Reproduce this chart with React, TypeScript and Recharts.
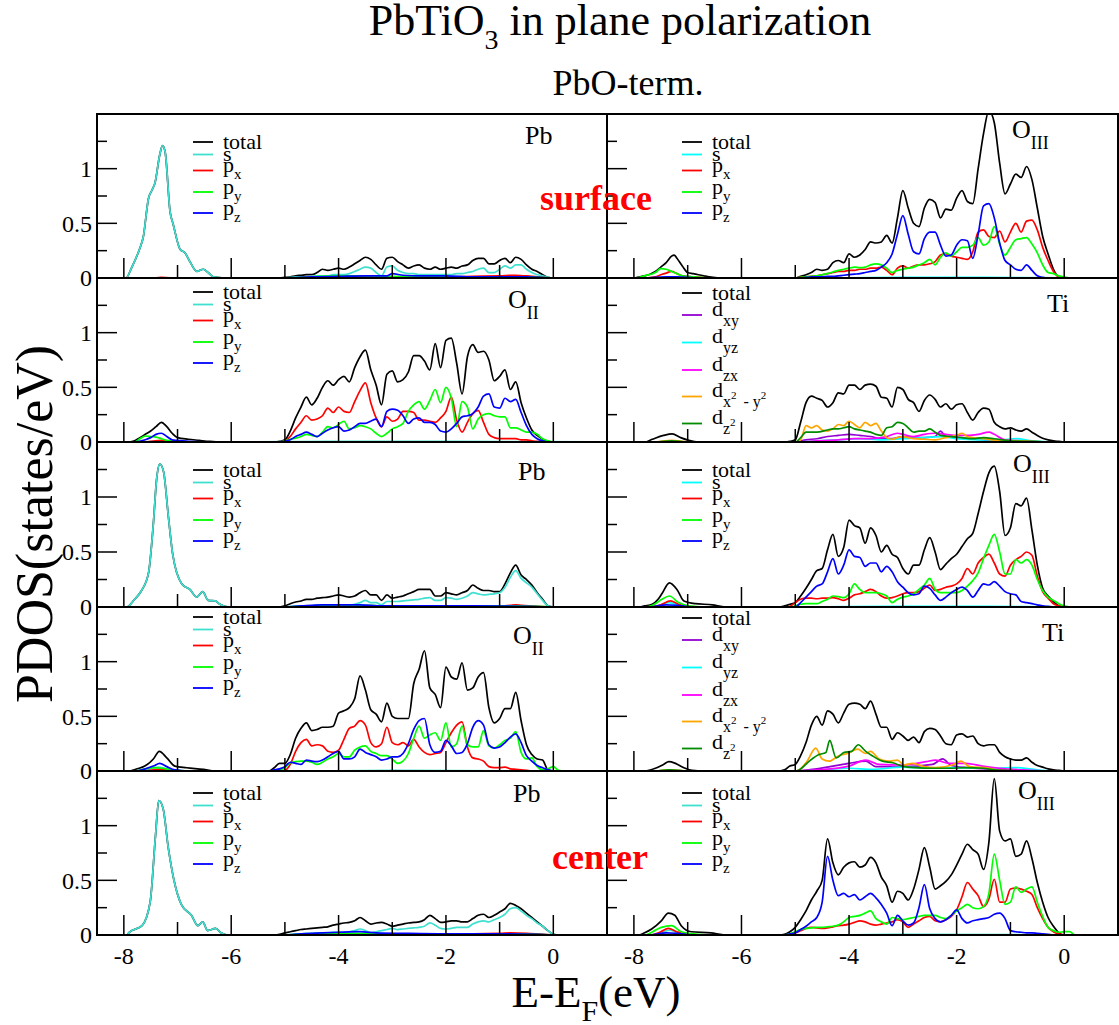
import { LineChart, Line, XAxis, YAxis, Legend } from "recharts";

type Pt = [number, number];

const FONT = "'Liberation Serif', 'Times New Roman', serif";

const BLACK = "#000000";
const TURQ = "#40e0d0";
const CYAN = "#00ffff";
const RED = "#ff0000";
const GREEN = "#00ff00";
const BLUE = "#0000ff";
const VIOLET = "#9400d3";
const MAGENTA = "#ff00ff";
const ORANGE = "#ffa500";
const GREEN4 = "#008b00";

// energy grid of the valence band (eV)
const E_VB = [
  -5.3, -5.2, -5.1, -5.0, -4.9, -4.8, -4.7, -4.6, -4.5, -4.4,
  -4.3, -4.2, -4.1, -4.0, -3.9, -3.8, -3.7, -3.6, -3.5, -3.4,
  -3.3, -3.2, -3.1, -3.0, -2.9, -2.8, -2.7, -2.6, -2.5, -2.4,
  -2.3, -2.2, -2.1, -2.0, -1.9, -1.8, -1.7, -1.6, -1.5, -1.4,
  -1.3, -1.2, -1.1, -1.0, -0.9, -0.8, -0.7, -0.6, -0.5, -0.4,
  -0.3, -0.2, -0.1, 0.0, 0.1, 0.2,
];

const X_DOMAIN: [number, number] = [-8.5, 1];
const Y_DOMAIN: [number, number] = [0, 1.5];
const X_MAJOR = [-8, -6, -4, -2, 0];
const X_MINOR = [-7, -5, -3, -1];
const Y_TICKS = [0, 0.25, 0.5, 0.75, 1, 1.25];
const Y_LABELED = [0, 0.5, 1];

// ---------- Pb, surface ----------
const PB1_SC: Pt[] = [[-8.5, 0], [-7.96, 0], [-7.85, 0.1], [-7.7, 0.275], [-7.64, 0.37], [-7.54, 0.73], [-7.48, 0.8], [-7.42, 0.87], [-7.33, 1.13], [-7.28, 1.21], [-7.23, 1.15], [-7.14, 0.61], [-7.08, 0.49], [-6.95, 0.26], [-6.86, 0.23], [-6.77, 0.15], [-6.64, 0.06], [-6.52, 0.08], [-6.43, 0.05], [-6.33, 0.01], [-6.12, 0]];
const PB1_TOT = [
  0, 0, 0, 0.005, 0.01, 0.02, 0.025, 0.03, 0.03, 0.05,
  0.08, 0.07, 0.08, 0.09, 0.08, 0.1, 0.13, 0.16, 0.19, 0.17,
  0.12, 0.08, 0.18, 0.19, 0.15, 0.12, 0.09, 0.11, 0.12, 0.09,
  0.08, 0.1, 0.08, 0.09, 0.1, 0.09, 0.11, 0.12, 0.16, 0.18,
  0.18, 0.13, 0.13, 0.16, 0.18, 0.14, 0.19, 0.17, 0.12, 0.08,
  0.06, 0.03, 0.005, 0, 0, 0,
];
const PB1_S = [
  0, 0, 0, 0, 0.005, 0.01, 0.01, 0.01, 0.015, 0.02,
  0.02, 0.02, 0.03, 0.03, 0.03, 0.04, 0.06, 0.08, 0.1, 0.09,
  0.05, 0.02, 0.1, 0.11, 0.07, 0.05, 0.04, 0.04, 0.03, 0.03,
  0.03, 0.03, 0.03, 0.03, 0.03, 0.04, 0.04, 0.05, 0.06, 0.08,
  0.09, 0.05, 0.05, 0.08, 0.11, 0.09, 0.12, 0.12, 0.08, 0.05,
  0.03, 0.02, 0.005, 0, 0, 0,
];
const PB1_PX: Pt[] = [[-8.5, 0], [-7.5, 0], [-7.3, 0.005], [-7.0, 0], [-5.0, 0], [-4.0, 0.01], [-3.0, 0.01], [-2.0, 0.01], [-1.5, 0.015], [-1.0, 0.02], [-0.7, 0.025], [-0.4, 0.015], [0, 0], [1, 0]];
const PB1_PY: Pt[] = [[-8.5, 0], [-5.0, 0], [-4.5, 0.01], [-4.0, 0.02], [-3.5, 0.02], [-3.0, 0.015], [-2.5, 0.01], [-1.5, 0.01], [-0.5, 0.01], [0, 0], [1, 0]];
const PB1_PZ: Pt[] = [[-8.5, 0], [-5.0, 0], [-4.5, 0.01], [-4.0, 0.015], [-3.5, 0.02], [-3.1, 0.02], [-3.0, 0.04], [-2.8, 0.025], [-2.5, 0.02], [-2.0, 0.02], [-1.5, 0.01], [-1.0, 0.01], [-0.5, 0.01], [0, 0], [1, 0]];

// ---------- O_III, surface ----------
const O3A_TOT_SC: Pt[] = [[-8.5, 0], [-8.0, 0], [-7.9, 0.01], [-7.8, 0.02], [-7.7, 0.035], [-7.6, 0.06], [-7.5, 0.1], [-7.4, 0.14], [-7.3, 0.2], [-7.25, 0.21], [-7.2, 0.18], [-7.1, 0.11], [-7.0, 0.05], [-6.9, 0.04], [-6.8, 0.03], [-6.7, 0.02], [-6.6, 0.01], [-6.4, 0]];
const O3A_PX_SC: Pt[] = [[-8.5, 0], [-7.8, 0], [-7.6, 0.01], [-7.5, 0.03], [-7.4, 0.045], [-7.3, 0.06], [-7.2, 0.04], [-7.1, 0.02], [-6.9, 0.01], [-6.6, 0]];
const O3A_PY_SC: Pt[] = [[-8.5, 0], [-8.0, 0], [-7.8, 0.02], [-7.6, 0.05], [-7.5, 0.085], [-7.4, 0.08], [-7.3, 0.06], [-7.2, 0.04], [-7.1, 0.02], [-6.9, 0.01], [-6.6, 0]];
const O3A_PZ_SC: Pt[] = [[-8.5, 0], [-7.8, 0], [-7.4, 0.01], [-7.2, 0.01], [-6.8, 0]];
const O3A_S: Pt[] = [[-8.5, 0], [-7.6, 0], [-7.3, 0.01], [-7.0, 0], [-5.0, 0], [-3.0, 0.005], [-1.5, 0.005], [1, 0]];
const O3A_TOT = [
  0, 0, 0, 0, 0.015, 0.03, 0.05, 0.08, 0.07, 0.08,
  0.14, 0.16, 0.14, 0.22, 0.19, 0.21, 0.26, 0.33, 0.32, 0.33,
  0.39, 0.32, 0.55, 0.8, 0.64, 0.5, 0.47, 0.64, 0.72, 0.69,
  0.55, 0.63, 0.62, 0.73, 0.8, 0.7, 0.68, 1.0, 1.32, 1.53,
  1.42, 1.05, 0.77, 0.86, 0.95, 0.92, 1.02, 0.9, 0.64, 0.38,
  0.22, 0.08, 0.01, 0, 0, 0,
];
const O3A_PX = [
  0, 0, 0, 0, 0.005, 0.01, 0.015, 0.02, 0.03, 0.04,
  0.05, 0.06, 0.06, 0.07, 0.07, 0.08, 0.08, 0.09, 0.09, 0.1,
  0.07, 0.03, 0.09, 0.11, 0.09, 0.11, 0.12, 0.12, 0.13, 0.15,
  0.21, 0.22, 0.2, 0.19, 0.18, 0.17, 0.24, 0.42, 0.44, 0.38,
  0.37, 0.43, 0.33, 0.42, 0.5, 0.42, 0.52, 0.53, 0.44, 0.28,
  0.16, 0.06, 0.01, 0, 0, 0,
];
const O3A_PY = [
  0, 0, 0, 0, 0.005, 0.01, 0.015, 0.02, 0.03, 0.04,
  0.055, 0.07, 0.08, 0.09, 0.1, 0.095, 0.1, 0.12, 0.13, 0.12,
  0.09, 0.05, 0.07, 0.08, 0.09, 0.1, 0.12, 0.14, 0.17, 0.12,
  0.19, 0.23, 0.2, 0.24, 0.28, 0.28, 0.3, 0.37, 0.3, 0.33,
  0.47, 0.31, 0.21, 0.28, 0.35, 0.36, 0.37, 0.31, 0.23, 0.12,
  0.05, 0.04, 0.02, 0.01, 0, 0,
];
const O3A_PZ = [
  0, 0, 0, 0, 0, 0.005, 0.01, 0.01, 0.01, 0.015,
  0.015, 0.02, 0.025, 0.03, 0.035, 0.04, 0.05, 0.06, 0.07, 0.1,
  0.14, 0.22, 0.4, 0.57, 0.4, 0.24, 0.22, 0.36, 0.42, 0.42,
  0.3, 0.2, 0.21, 0.3, 0.35, 0.34, 0.18, 0.4, 0.66, 0.68,
  0.55, 0.32, 0.16, 0.12, 0.08, 0.07, 0.12, 0.07, 0.02, 0.005,
  0, 0, 0, 0, 0, 0,
];

// ---------- O_II, surface ----------
const O2A_TOT_SC: Pt[] = [[-8.5, 0], [-7.9, 0], [-7.8, 0.01], [-7.7, 0.04], [-7.6, 0.07], [-7.5, 0.1], [-7.4, 0.14], [-7.3, 0.18], [-7.2, 0.14], [-7.1, 0.08], [-7.0, 0.04], [-6.8, 0.025], [-6.6, 0.015], [-6.4, 0.005], [-6.2, 0]];
const O2A_PX_SC: Pt[] = [[-8.5, 0], [-7.6, 0], [-7.3, 0.015], [-7.0, 0], [-6.6, 0]];
const O2A_PY_SC: Pt[] = [[-8.5, 0], [-7.8, 0], [-7.7, 0.03], [-7.6, 0.055], [-7.5, 0.05], [-7.4, 0.045], [-7.3, 0.03], [-7.2, 0.015], [-7.0, 0.005], [-6.6, 0]];
const O2A_PZ_SC: Pt[] = [[-8.5, 0], [-7.8, 0], [-7.6, 0.02], [-7.5, 0.04], [-7.4, 0.07], [-7.3, 0.08], [-7.2, 0.05], [-7.1, 0.02], [-6.9, 0.01], [-6.5, 0]];
const O2A_S: Pt[] = [[-8.5, 0], [-7.6, 0], [-7.3, 0.01], [-7.0, 0], [-4.0, 0.005], [-2.0, 0.005], [1, 0]];
const O2A_TOT = [
  0, 0, 0.005, 0.02, 0.1, 0.22, 0.32, 0.41, 0.34, 0.4,
  0.5, 0.56, 0.52, 0.57, 0.6, 0.55, 0.68, 0.78, 0.84, 0.66,
  0.52, 0.34, 0.62, 0.65, 0.55, 0.57, 0.64, 0.79, 0.79, 0.74,
  0.66, 0.9, 0.68, 0.93, 0.95, 0.72, 0.44, 0.78, 0.89, 0.82,
  0.83, 0.75, 0.56, 0.6, 0.66, 0.48, 0.55, 0.36, 0.22, 0.11,
  0.06, 0.025, 0.005, 0, 0, 0,
];
const O2A_PX = [
  0, 0, 0, 0.01, 0.05, 0.12, 0.18, 0.24, 0.2, 0.21,
  0.24, 0.31, 0.27, 0.32, 0.28, 0.27, 0.37, 0.47, 0.54, 0.36,
  0.22, 0.14, 0.23, 0.19, 0.21, 0.28, 0.28, 0.27, 0.2, 0.2,
  0.19, 0.18, 0.22, 0.28, 0.41, 0.2, 0.09, 0.18, 0.26, 0.29,
  0.18, 0.07, 0.04, 0.03, 0.03, 0.03, 0.03, 0.02, 0.02, 0.01,
  0.005, 0, 0, 0, 0, 0,
];
const O2A_PY = [
  0, 0, 0, 0.01, 0.025, 0.035, 0.05, 0.07, 0.06, 0.05,
  0.09, 0.14, 0.13, 0.16, 0.19, 0.12, 0.13, 0.15, 0.14, 0.12,
  0.08, 0.05, 0.08, 0.12, 0.14, 0.17, 0.28, 0.34, 0.37, 0.3,
  0.38, 0.48, 0.36, 0.5, 0.4, 0.14, 0.37, 0.32, 0.12, 0.21,
  0.25, 0.26, 0.24, 0.23, 0.23, 0.13, 0.13, 0.11, 0.09, 0.09,
  0.07, 0.03, 0.01, 0, 0, 0,
];
const O2A_PZ = [
  0, 0, 0, 0.005, 0.02, 0.05, 0.07, 0.09, 0.07, 0.05,
  0.08, 0.11, 0.13, 0.14, 0.1, 0.11, 0.14, 0.17, 0.17, 0.19,
  0.21, 0.14, 0.28, 0.3, 0.29, 0.24, 0.17, 0.21, 0.22, 0.18,
  0.18, 0.16, 0.1, 0.09, 0.12, 0.17, 0.23, 0.24, 0.26, 0.32,
  0.42, 0.44, 0.32, 0.31, 0.4, 0.37, 0.39, 0.27, 0.15, 0.07,
  0.03, 0.01, 0, 0, 0, 0,
];

// ---------- Ti, surface ----------
const TIA_TOT_SC: Pt[] = [[-8.5, 0], [-7.8, 0], [-7.66, 0.025], [-7.45, 0.06], [-7.29, 0.075], [-7.13, 0.04], [-6.98, 0.015], [-6.8, 0]];
const TIA_TOT = [
  0, 0, 0.005, 0.02, 0.18, 0.36, 0.42, 0.4, 0.38, 0.32,
  0.36, 0.45, 0.44, 0.52, 0.52, 0.48, 0.52, 0.53, 0.51, 0.41,
  0.4, 0.32, 0.5, 0.48, 0.39, 0.36, 0.28, 0.38, 0.43, 0.39,
  0.32, 0.35, 0.3, 0.34, 0.35, 0.27, 0.2, 0.27, 0.31, 0.3,
  0.18, 0.14, 0.12, 0.13, 0.11, 0.1, 0.12, 0.09, 0.06, 0.035,
  0.02, 0.01, 0.005, 0, 0, 0,
];
const TIA_DXY: Pt[] = [[-8.5, 0], [-5.0, 0], [-4.8, 0.02], [-4.6, 0.03], [-4.4, 0.05], [-4.2, 0.06], [-4.0, 0.07], [-3.8, 0.06], [-3.6, 0.05], [-3.4, 0.03], [-3.2, 0.03], [-3.0, 0.05], [-2.8, 0.04], [-2.6, 0.04], [-2.4, 0.05], [-2.3, 0.1], [-2.2, 0.05], [-2.0, 0.04], [-1.8, 0.03], [-1.5, 0.02], [-1.2, 0.01], [-0.8, 0.005], [-0.3, 0], [1, 0]];
const TIA_DYZ: Pt[] = [[-8.5, 0], [-5.0, 0], [-4.6, 0.01], [-4.2, 0.02], [-3.8, 0.03], [-3.4, 0.02], [-3.0, 0.03], [-2.6, 0.04], [-2.3, 0.05], [-2.0, 0.03], [-1.6, 0.02], [-1.2, 0.02], [-0.9, 0.03], [-0.6, 0.01], [-0.2, 0], [1, 0]];
const TIA_DZX: Pt[] = [[-8.5, 0], [-5.0, 0], [-4.6, 0.01], [-4.2, 0.02], [-3.9, 0.03], [-3.6, 0.03], [-3.3, 0.05], [-3.1, 0.08], [-3.0, 0.07], [-2.8, 0.05], [-2.6, 0.07], [-2.4, 0.08], [-2.2, 0.07], [-2.0, 0.06], [-1.8, 0.06], [-1.6, 0.07], [-1.4, 0.09], [-1.3, 0.07], [-1.1, 0.02], [-0.8, 0.01], [-0.3, 0], [1, 0]];
const TIA_DX2Y2: Pt[] = [[-8.5, 0], [-7.6, 0], [-7.3, 0.015], [-7.0, 0], [-5.0, 0], [-4.9, 0.02], [-4.8, 0.15], [-4.7, 0.13], [-4.6, 0.15], [-4.5, 0.11], [-4.4, 0.1], [-4.3, 0.12], [-4.2, 0.16], [-4.1, 0.15], [-4.0, 0.19], [-3.9, 0.16], [-3.8, 0.13], [-3.7, 0.18], [-3.6, 0.15], [-3.5, 0.17], [-3.4, 0.1], [-3.3, 0.04], [-3.2, 0.025], [-3.1, 0.04], [-3.0, 0.05], [-2.9, 0.04], [-2.8, 0.03], [-2.6, 0.025], [-2.4, 0.02], [-2.2, 0.04], [-2.1, 0.05], [-2.0, 0.06], [-1.9, 0.08], [-1.8, 0.05], [-1.7, 0.04], [-1.5, 0.03], [-1.2, 0.015], [-0.8, 0.01], [-0.3, 0], [1, 0]];
const TIA_DZ2: Pt[] = [[-8.5, 0], [-7.6, 0], [-7.3, 0.01], [-7.0, 0], [-5.0, 0], [-4.9, 0.04], [-4.8, 0.09], [-4.6, 0.09], [-4.4, 0.11], [-4.3, 0.12], [-4.2, 0.12], [-4.1, 0.13], [-4.0, 0.14], [-3.9, 0.12], [-3.8, 0.11], [-3.7, 0.1], [-3.6, 0.09], [-3.5, 0.07], [-3.4, 0.06], [-3.3, 0.13], [-3.2, 0.14], [-3.1, 0.18], [-3.0, 0.17], [-2.9, 0.13], [-2.8, 0.09], [-2.7, 0.1], [-2.6, 0.1], [-2.5, 0.12], [-2.4, 0.09], [-2.3, 0.06], [-2.1, 0.05], [-1.9, 0.04], [-1.7, 0.03], [-1.5, 0.04], [-1.3, 0.03], [-1.0, 0.01], [-0.6, 0.005], [-0.2, 0], [1, 0]];

// ---------- Pb, second layer ----------
const PB2_SC: Pt[] = [[-8.5, 0], [-7.95, 0], [-7.8, 0.07], [-7.67, 0.15], [-7.54, 0.31], [-7.45, 0.76], [-7.39, 1.16], [-7.33, 1.3], [-7.26, 1.23], [-7.17, 0.82], [-7.09, 0.48], [-6.92, 0.21], [-6.77, 0.16], [-6.64, 0.09], [-6.53, 0.14], [-6.43, 0.06], [-6.3, 0.055], [-6.21, 0.025], [-6.05, 0]];
const PB2_TOT = [
  0, 0, 0, 0.01, 0.03, 0.045, 0.055, 0.07, 0.07, 0.08,
  0.085, 0.09, 0.1, 0.11, 0.1, 0.09, 0.1, 0.13, 0.15, 0.11,
  0.11, 0.06, 0.11, 0.08, 0.09, 0.1, 0.12, 0.14, 0.16, 0.16,
  0.16, 0.1, 0.1, 0.13, 0.12, 0.11, 0.13, 0.15, 0.2, 0.17,
  0.15, 0.15, 0.14, 0.14, 0.21, 0.31, 0.38, 0.29, 0.25, 0.2,
  0.13, 0.07, 0.01, 0, 0, 0,
];
const PB2_S = [
  0, 0, 0, 0, 0.005, 0.01, 0.01, 0.01, 0.01, 0.015,
  0.015, 0.02, 0.02, 0.02, 0.02, 0.02, 0.025, 0.04, 0.06, 0.04,
  0.04, 0.02, 0.05, 0.05, 0.05, 0.055, 0.06, 0.065, 0.07, 0.08,
  0.085, 0.06, 0.06, 0.085, 0.08, 0.07, 0.08, 0.1, 0.13, 0.12,
  0.11, 0.115, 0.12, 0.13, 0.18, 0.27, 0.33, 0.26, 0.22, 0.18,
  0.12, 0.06, 0.01, 0, 0, 0,
];
const PB2_PX: Pt[] = [[-8.5, 0], [-5.0, 0], [-4.0, 0.01], [-3.0, 0.01], [-2.0, 0.01], [-1.0, 0.01], [-0.8, 0.015], [-0.7, 0.02], [-0.6, 0.015], [-0.3, 0.005], [0, 0], [1, 0]];
const PB2_PY: Pt[] = [[-8.5, 0], [-5.0, 0], [-4.5, 0.01], [-4.0, 0.02], [-3.5, 0.015], [-3.0, 0.01], [-2.0, 0.01], [-1.0, 0.01], [-0.3, 0.005], [0, 0], [1, 0]];
const PB2_PZ: Pt[] = [[-8.5, 0], [-5.0, 0], [-4.7, 0.01], [-4.3, 0.02], [-4.0, 0.02], [-3.6, 0.02], [-3.2, 0.01], [-2.5, 0.01], [-1.5, 0.01], [-0.5, 0.005], [0, 0], [1, 0]];

// ---------- O_III, second layer ----------
const O3B_TOT_SC: Pt[] = [[-8.5, 0], [-7.9, 0], [-7.8, 0.01], [-7.66, 0.025], [-7.55, 0.07], [-7.48, 0.12], [-7.34, 0.22], [-7.2, 0.16], [-7.07, 0.055], [-6.86, 0.03], [-6.54, 0.02], [-6.3, 0]];
const O3B_PX_SC: Pt[] = [[-8.5, 0], [-7.7, 0], [-7.5, 0.02], [-7.32, 0.055], [-7.17, 0.025], [-7.0, 0.005], [-6.7, 0]];
const O3B_PY_SC: Pt[] = [[-8.5, 0], [-7.8, 0], [-7.6, 0.03], [-7.48, 0.07], [-7.34, 0.1], [-7.17, 0.04], [-6.98, 0.01], [-6.7, 0]];
const O3B_PZ_SC: Pt[] = [[-8.5, 0], [-7.7, 0], [-7.4, 0.02], [-7.2, 0.015], [-6.9, 0]];
const O3B_S: Pt[] = [[-8.5, 0], [-7.7, 0], [-7.5, 0.02], [-7.35, 0.04], [-7.2, 0.02], [-7.0, 0], [-5.0, 0], [-3.0, 0.005], [-1.5, 0.005], [1, 0]];
const O3B_TOT = [
  0, 0.01, 0.025, 0.04, 0.1, 0.17, 0.25, 0.33, 0.35, 0.52,
  0.66, 0.46, 0.54, 0.79, 0.74, 0.72, 0.58, 0.72, 0.65, 0.5,
  0.56, 0.48, 0.45, 0.35, 0.3, 0.38, 0.38, 0.52, 0.63, 0.5,
  0.34, 0.39, 0.44, 0.48, 0.55, 0.62, 0.67, 0.85, 1.05, 1.22,
  1.28, 1.05, 0.65, 0.72, 0.94, 0.92, 0.99, 0.7, 0.38, 0.17,
  0.1, 0.05, 0.01, 0, 0, 0,
];
const O3B_PX = [
  0, 0, 0.005, 0.04, 0.07, 0.08, 0.08, 0.075, 0.08, 0.08,
  0.085, 0.075, 0.06, 0.08, 0.11, 0.12, 0.14, 0.16, 0.14, 0.1,
  0.08, 0.085, 0.1, 0.12, 0.13, 0.13, 0.14, 0.17, 0.2, 0.15,
  0.16, 0.18, 0.19, 0.21, 0.26, 0.35, 0.3, 0.4, 0.45, 0.48,
  0.4, 0.3, 0.28, 0.38, 0.43, 0.46, 0.5, 0.47, 0.28, 0.14,
  0.08, 0.03, 0.01, 0, 0, 0,
];
const O3B_PY = [
  0, 0, 0, 0.01, 0.025, 0.03, 0.03, 0.03, 0.05, 0.07,
  0.1, 0.095, 0.085, 0.12, 0.21, 0.16, 0.13, 0.13, 0.13, 0.12,
  0.1, 0.04, 0.07, 0.09, 0.1, 0.12, 0.16, 0.2, 0.26, 0.16,
  0.13, 0.13, 0.13, 0.13, 0.15, 0.19, 0.24, 0.31, 0.44, 0.56,
  0.66, 0.5, 0.3, 0.3, 0.43, 0.4, 0.43, 0.38, 0.25, 0.15,
  0.09, 0.06, 0.03, 0.01, 0, 0,
];
const O3B_PZ = [
  0, 0, 0, 0, 0.04, 0.09, 0.14, 0.19, 0.21, 0.32,
  0.44, 0.3, 0.38, 0.52, 0.46, 0.45, 0.37, 0.4, 0.4, 0.32,
  0.37, 0.32, 0.23, 0.18, 0.13, 0.11, 0.12, 0.19, 0.17, 0.11,
  0.06, 0.09, 0.13, 0.16, 0.18, 0.15, 0.09, 0.15, 0.21, 0.2,
  0.23, 0.19, 0.14, 0.12, 0.11, 0.05, 0.04, 0.03, 0.02, 0.01,
  0.005, 0, 0, 0, 0, 0,
];

// ---------- O_II, second layer ----------
const O2B_TOT_SC: Pt[] = [[-8.5, 0], [-7.9, 0], [-7.75, 0.02], [-7.61, 0.045], [-7.45, 0.11], [-7.34, 0.18], [-7.2, 0.12], [-7.05, 0.045], [-6.83, 0.03], [-6.52, 0.015], [-6.3, 0]];
const O2B_PX_SC: Pt[] = [[-8.5, 0], [-7.6, 0], [-7.35, 0.015], [-7.1, 0.005], [-6.8, 0]];
const O2B_PY_SC: Pt[] = [[-8.5, 0], [-7.8, 0], [-7.6, 0.02], [-7.45, 0.03], [-7.3, 0.025], [-7.1, 0.01], [-6.8, 0]];
const O2B_PZ_SC: Pt[] = [[-8.5, 0], [-7.8, 0], [-7.6, 0.02], [-7.45, 0.045], [-7.33, 0.07], [-7.2, 0.04], [-7.05, 0.01], [-6.8, 0]];
const O2B_S: Pt[] = [[-8.5, 0], [-7.7, 0], [-7.5, 0.02], [-7.35, 0.035], [-7.2, 0.02], [-7.0, 0], [-5.0, 0], [-3.0, 0.005], [1, 0]];
const O2B_TOT = [
  0, 0.03, 0.07, 0.07, 0.15, 0.3, 0.39, 0.44, 0.37, 0.38,
  0.4, 0.4, 0.41, 0.53, 0.55, 0.58, 0.66, 0.87, 0.74, 0.56,
  0.52, 0.45, 0.62, 0.5, 0.48, 0.48, 0.48, 0.8, 0.93, 1.1,
  0.76, 0.7, 0.58, 0.95, 0.86, 0.84, 0.99, 0.74, 0.76, 0.86,
  0.9, 0.58, 0.44, 0.48, 0.57, 0.57, 0.72, 0.46, 0.24, 0.15,
  0.11, 0.1, 0.01, 0, 0, 0,
];
const O2B_PX = [
  0, 0, 0, 0.005, 0.06, 0.18, 0.26, 0.29, 0.23, 0.24,
  0.23, 0.18, 0.17, 0.19, 0.29, 0.39, 0.41, 0.46, 0.42, 0.26,
  0.22, 0.25, 0.4, 0.26, 0.24, 0.26, 0.23, 0.29, 0.22, 0.17,
  0.15, 0.16, 0.17, 0.26, 0.35, 0.42, 0.45, 0.22, 0.12, 0.11,
  0.09, 0.04, 0.03, 0.03, 0.035, 0.02, 0.015, 0.01, 0.005, 0,
  0, 0, 0, 0, 0, 0,
];
const O2B_PY = [
  0, 0, 0.01, 0.03, 0.075, 0.085, 0.09, 0.09, 0.08, 0.06,
  0.08, 0.11, 0.13, 0.16, 0.13, 0.13, 0.19, 0.22, 0.23, 0.18,
  0.16, 0.14, 0.14, 0.11, 0.07, 0.09, 0.16, 0.3, 0.41, 0.3,
  0.33, 0.35, 0.28, 0.44, 0.22, 0.25, 0.41, 0.24, 0.22, 0.22,
  0.37, 0.23, 0.21, 0.24, 0.28, 0.3, 0.36, 0.17, 0.11, 0.12,
  0.04, 0.01, 0.02, 0.04, 0.005, 0,
];
const O2B_PZ = [
  0, 0.01, 0.02, 0.04, 0.08, 0.07, 0.06, 0.1, 0.09, 0.085,
  0.1, 0.13, 0.16, 0.18, 0.11, 0.11, 0.13, 0.2, 0.17, 0.15,
  0.13, 0.1, 0.11, 0.13, 0.13, 0.16, 0.25, 0.38, 0.46, 0.48,
  0.24, 0.17, 0.18, 0.28, 0.23, 0.16, 0.17, 0.25, 0.4, 0.46,
  0.42, 0.24, 0.21, 0.22, 0.26, 0.31, 0.34, 0.26, 0.14, 0.09,
  0.05, 0.03, 0.01, 0, 0, 0,
];

// ---------- Ti, second layer ----------
const TIB_TOT_SC: Pt[] = [[-8.5, 0], [-7.8, 0], [-7.6, 0.025], [-7.45, 0.06], [-7.35, 0.085], [-7.23, 0.07], [-7.07, 0.03], [-6.92, 0.005], [-6.7, 0]];
const TIB_TOT = [
  0, 0.01, 0.045, 0.06, 0.14, 0.26, 0.42, 0.5, 0.42, 0.55,
  0.52, 0.44, 0.53, 0.61, 0.62, 0.61, 0.57, 0.64, 0.52, 0.4,
  0.4, 0.29, 0.35, 0.32, 0.28, 0.31, 0.26, 0.36, 0.39, 0.38,
  0.32, 0.25, 0.24, 0.33, 0.34, 0.31, 0.32, 0.25, 0.23, 0.24,
  0.24, 0.17, 0.13, 0.11, 0.1, 0.1, 0.12, 0.08, 0.05, 0.035,
  0.02, 0.01, 0.005, 0, 0, 0,
];
const TIB_DXY: Pt[] = [[-8.5, 0], [-5.0, 0], [-4.6, 0.02], [-4.0, 0.07], [-3.69, 0.09], [-3.5, 0.04], [-3.0, 0.04], [-2.45, 0.06], [-2.26, 0.11], [-2.1, 0.05], [-1.8, 0.03], [-1.4, 0.02], [-1.0, 0.01], [-0.4, 0], [1, 0]];
const TIB_DYZ: Pt[] = [[-8.5, 0], [-5.0, 0], [-4.5, 0.01], [-4.0, 0.025], [-3.57, 0.015], [-3.0, 0.035], [-2.5, 0.025], [-2.0, 0.03], [-1.5, 0.025], [-0.9, 0.03], [-0.5, 0.01], [-0.2, 0], [1, 0]];
const TIB_DZX: Pt[] = [[-8.5, 0], [-5.0, 0], [-4.6, 0.01], [-4.0, 0.045], [-3.69, 0.1], [-3.44, 0.06], [-3.0, 0.055], [-2.57, 0.085], [-2.39, 0.1], [-2.14, 0.07], [-1.83, 0.07], [-1.52, 0.045], [-1.2, 0.025], [-0.8, 0.01], [-0.3, 0], [1, 0]];
const TIB_DX2Y2: Pt[] = [[-8.5, 0], [-7.6, 0], [-7.35, 0.01], [-7.0, 0], [-5.0, 0], [-4.93, 0.01], [-4.78, 0.09], [-4.62, 0.21], [-4.5, 0.11], [-4.37, 0.09], [-4.19, 0.14], [-4.03, 0.16], [-3.84, 0.2], [-3.69, 0.16], [-3.6, 0.18], [-3.44, 0.11], [-3.26, 0.09], [-3.1, 0.1], [-2.98, 0.055], [-2.82, 0.07], [-2.6, 0.04], [-2.4, 0.03], [-2.08, 0.055], [-1.92, 0.09], [-1.76, 0.04], [-1.39, 0.025], [-1.2, 0.005], [-0.6, 0], [1, 0]];
const TIB_DZ2: Pt[] = [[-8.5, 0], [-7.6, 0], [-7.35, 0.01], [-7.0, 0], [-5.0, 0], [-4.93, 0.01], [-4.74, 0.09], [-4.56, 0.15], [-4.43, 0.17], [-4.36, 0.28], [-4.24, 0.12], [-4.09, 0.17], [-3.95, 0.18], [-3.83, 0.24], [-3.69, 0.18], [-3.57, 0.14], [-3.38, 0.09], [-3.19, 0.075], [-3.01, 0.045], [-2.76, 0.03], [-2.45, 0.025], [-2.14, 0.025], [-1.84, 0.03], [-1.52, 0.025], [-1.2, 0.005], [-0.6, 0], [1, 0]];

// ---------- Pb, center ----------
const PB3_SC: Pt[] = [[-8.5, 0], [-7.95, 0], [-7.9, 0.025], [-7.66, 0.085], [-7.51, 0.3], [-7.41, 0.91], [-7.35, 1.23], [-7.27, 1.16], [-7.17, 0.79], [-7.07, 0.51], [-6.93, 0.28], [-6.74, 0.18], [-6.62, 0.085], [-6.53, 0.12], [-6.44, 0.04], [-6.29, 0.06], [-6.19, 0.02], [-6.07, 0]];
const PB3_TOT = [
  0, 0, 0.005, 0.02, 0.03, 0.04, 0.05, 0.055, 0.06, 0.065,
  0.07, 0.075, 0.09, 0.1, 0.11, 0.115, 0.13, 0.16, 0.13, 0.1,
  0.11, 0.115, 0.1, 0.08, 0.09, 0.1, 0.11, 0.115, 0.12, 0.14,
  0.18, 0.15, 0.115, 0.12, 0.13, 0.13, 0.12, 0.12, 0.15, 0.18,
  0.19, 0.16, 0.18, 0.21, 0.24, 0.29, 0.27, 0.24, 0.2, 0.16,
  0.12, 0.08, 0.04, 0.005, 0, 0,
];
const PB3_S = [
  0, 0, 0, 0, 0.005, 0.01, 0.01, 0.015, 0.015, 0.02,
  0.02, 0.02, 0.025, 0.025, 0.025, 0.03, 0.04, 0.055, 0.04, 0.02,
  0.03, 0.04, 0.05, 0.06, 0.05, 0.055, 0.06, 0.065, 0.07, 0.08,
  0.11, 0.09, 0.06, 0.055, 0.06, 0.07, 0.07, 0.07, 0.1, 0.12,
  0.13, 0.12, 0.14, 0.16, 0.19, 0.24, 0.25, 0.22, 0.18, 0.15,
  0.11, 0.08, 0.04, 0.005, 0, 0,
];
const PB3_PX: Pt[] = [[-8.5, 0], [-5.0, 0], [-4.0, 0.005], [-3.0, 0.01], [-2.0, 0.01], [-1.0, 0.015], [-0.8, 0.02], [-0.5, 0.015], [-0.2, 0.005], [0, 0], [1, 0]];
const PB3_PY: Pt[] = [[-8.5, 0], [-5.0, 0], [-4.5, 0.01], [-4.0, 0.015], [-3.5, 0.015], [-3.0, 0.01], [-2.0, 0.01], [-1.0, 0.01], [-0.3, 0.005], [0, 0], [1, 0]];
const PB3_PZ: Pt[] = [[-8.5, 0], [-5.0, 0], [-4.7, 0.01], [-4.3, 0.02], [-4.0, 0.025], [-3.6, 0.03], [-3.3, 0.02], [-2.8, 0.015], [-2.0, 0.01], [-1.0, 0.01], [-0.3, 0.005], [0, 0], [1, 0]];

// ---------- O_III, center ----------
const O3C_TOT_SC: Pt[] = [[-8.5, 0], [-7.9, 0], [-7.8, 0.02], [-7.67, 0.055], [-7.49, 0.13], [-7.36, 0.2], [-7.24, 0.18], [-7.12, 0.085], [-6.93, 0.03], [-6.57, 0.02], [-6.3, 0]];
const O3C_PX_SC: Pt[] = [[-8.5, 0], [-7.7, 0], [-7.5, 0.03], [-7.36, 0.06], [-7.2, 0.03], [-7.0, 0.005], [-6.7, 0]];
const O3C_PY_SC: Pt[] = [[-8.5, 0], [-7.8, 0], [-7.65, 0.03], [-7.49, 0.07], [-7.3, 0.085], [-7.12, 0.03], [-6.9, 0.01], [-6.6, 0]];
const O3C_PZ_SC: Pt[] = [[-8.5, 0], [-7.7, 0], [-7.4, 0.02], [-7.2, 0.015], [-6.9, 0]];
const O3C_S: Pt[] = [[-8.5, 0], [-7.7, 0], [-7.5, 0.02], [-7.33, 0.045], [-7.2, 0.02], [-7.0, 0], [-5.0, 0], [-3.0, 0.005], [1, 0]];
const O3C_TOT = [
  0, 0.005, 0.03, 0.07, 0.14, 0.22, 0.32, 0.4, 0.5, 0.88,
  0.66, 0.55, 0.62, 0.66, 0.67, 0.62, 0.64, 0.71, 0.66, 0.53,
  0.45, 0.3, 0.4, 0.38, 0.32, 0.42, 0.6, 0.8, 0.62, 0.42,
  0.45, 0.49, 0.55, 0.64, 0.74, 0.83, 0.78, 0.74, 0.6, 0.85,
  1.43, 0.95, 0.86, 0.88, 0.72, 0.74, 0.86, 0.7, 0.48, 0.3,
  0.16, 0.08, 0.02, 0, 0, 0,
];
const O3C_PX = [
  0, 0, 0.005, 0.02, 0.04, 0.06, 0.07, 0.065, 0.06, 0.065,
  0.075, 0.085, 0.09, 0.1, 0.115, 0.13, 0.12, 0.1, 0.09, 0.1,
  0.11, 0.12, 0.14, 0.12, 0.07, 0.1, 0.13, 0.16, 0.17, 0.13,
  0.12, 0.14, 0.17, 0.23, 0.35, 0.48, 0.42, 0.36, 0.26, 0.33,
  0.51, 0.3, 0.3, 0.42, 0.43, 0.42, 0.4, 0.37, 0.25, 0.15,
  0.07, 0.03, 0.01, 0, 0, 0,
];
const O3C_PY = [
  0, 0, 0.01, 0.03, 0.05, 0.06, 0.065, 0.07, 0.07, 0.075,
  0.08, 0.09, 0.12, 0.16, 0.17, 0.18, 0.2, 0.22, 0.15, 0.12,
  0.1, 0.16, 0.15, 0.14, 0.15, 0.16, 0.17, 0.18, 0.18, 0.18,
  0.16, 0.15, 0.18, 0.22, 0.25, 0.28, 0.25, 0.24, 0.26, 0.38,
  0.74, 0.5, 0.28, 0.3, 0.44, 0.39, 0.42, 0.44, 0.3, 0.17,
  0.07, 0.04, 0.025, 0.03, 0.03, 0,
];
const O3C_PZ = [
  0, 0, 0.01, 0.02, 0.05, 0.08, 0.12, 0.16, 0.3, 0.72,
  0.5, 0.36, 0.38, 0.35, 0.37, 0.32, 0.35, 0.38, 0.34, 0.28,
  0.2, 0.085, 0.18, 0.13, 0.09, 0.11, 0.25, 0.46, 0.24, 0.15,
  0.12, 0.14, 0.18, 0.23, 0.15, 0.11, 0.13, 0.14, 0.15, 0.16,
  0.19, 0.2, 0.15, 0.04, 0.03, 0.025, 0.02, 0.02, 0.015, 0.01,
  0.005, 0, 0, 0, 0, 0,
];

const band = (sc: Pt[], vb: number[]): Pt[] => [
  ...sc,
  ...E_VB.map((e, i): Pt => [e, vb[i]]),
  [1.0, 0],
];

type Series = { key: string; color: string; pts: Pt[] };
type Panel = {
  row: number;
  col: number;
  kind: "p" | "d";
  name: string;
  sub?: string;
  labelX: number;
  labelY: number;
  legendY: number;
  series: Series[];
};

const ROW_TOP = [114, 278, 442, 607, 771];
const ROW_H = [164, 164, 165, 164, 164];
const COL_X = [97, 607];
const COL_W = [510, 511];

const PANELS: Panel[] = [
  {
    row: 0, col: 0, kind: "p", name: "Pb", labelX: 525, labelY: 144, legendY: 142,
    series: [
      { key: "total", color: BLACK, pts: band(PB1_SC, PB1_TOT) },
      { key: "s", color: TURQ, pts: band(PB1_SC, PB1_S) },
      { key: "px", color: RED, pts: PB1_PX },
      { key: "py", color: GREEN, pts: PB1_PY },
      { key: "pz", color: BLUE, pts: PB1_PZ },
    ],
  },
  {
    row: 0, col: 1, kind: "p", name: "O", sub: "III", labelX: 1012, labelY: 138, legendY: 142,
    series: [
      { key: "total", color: BLACK, pts: band(O3A_TOT_SC, O3A_TOT) },
      { key: "s", color: CYAN, pts: O3A_S },
      { key: "px", color: RED, pts: band(O3A_PX_SC, O3A_PX) },
      { key: "py", color: GREEN, pts: band(O3A_PY_SC, O3A_PY) },
      { key: "pz", color: BLUE, pts: band(O3A_PZ_SC, O3A_PZ) },
    ],
  },
  {
    row: 1, col: 0, kind: "p", name: "O", sub: "II", labelX: 508, labelY: 308, legendY: 292,
    series: [
      { key: "total", color: BLACK, pts: band(O2A_TOT_SC, O2A_TOT) },
      { key: "s", color: TURQ, pts: O2A_S },
      { key: "px", color: RED, pts: band(O2A_PX_SC, O2A_PX) },
      { key: "py", color: GREEN, pts: band(O2A_PY_SC, O2A_PY) },
      { key: "pz", color: BLUE, pts: band(O2A_PZ_SC, O2A_PZ) },
    ],
  },
  {
    row: 1, col: 1, kind: "d", name: "Ti", labelX: 1047, labelY: 312, legendY: 293,
    series: [
      { key: "total", color: BLACK, pts: band(TIA_TOT_SC, TIA_TOT) },
      { key: "dxy", color: VIOLET, pts: TIA_DXY },
      { key: "dyz", color: CYAN, pts: TIA_DYZ },
      { key: "dzx", color: MAGENTA, pts: TIA_DZX },
      { key: "dx2y2", color: ORANGE, pts: TIA_DX2Y2 },
      { key: "dz2", color: GREEN4, pts: TIA_DZ2 },
    ],
  },
  {
    row: 2, col: 0, kind: "p", name: "Pb", labelX: 518, labelY: 480, legendY: 470,
    series: [
      { key: "total", color: BLACK, pts: band(PB2_SC, PB2_TOT) },
      { key: "s", color: TURQ, pts: band(PB2_SC, PB2_S) },
      { key: "px", color: RED, pts: PB2_PX },
      { key: "py", color: GREEN, pts: PB2_PY },
      { key: "pz", color: BLUE, pts: PB2_PZ },
    ],
  },
  {
    row: 2, col: 1, kind: "p", name: "O", sub: "III", labelX: 1013, labelY: 472, legendY: 470,
    series: [
      { key: "total", color: BLACK, pts: band(O3B_TOT_SC, O3B_TOT) },
      { key: "s", color: CYAN, pts: O3B_S },
      { key: "px", color: RED, pts: band(O3B_PX_SC, O3B_PX) },
      { key: "py", color: GREEN, pts: band(O3B_PY_SC, O3B_PY) },
      { key: "pz", color: BLUE, pts: band(O3B_PZ_SC, O3B_PZ) },
    ],
  },
  {
    row: 3, col: 0, kind: "p", name: "O", sub: "II", labelX: 513, labelY: 644, legendY: 617,
    series: [
      { key: "total", color: BLACK, pts: band(O2B_TOT_SC, O2B_TOT) },
      { key: "s", color: TURQ, pts: O2B_S },
      { key: "px", color: RED, pts: band(O2B_PX_SC, O2B_PX) },
      { key: "py", color: GREEN, pts: band(O2B_PY_SC, O2B_PY) },
      { key: "pz", color: BLUE, pts: band(O2B_PZ_SC, O2B_PZ) },
    ],
  },
  {
    row: 3, col: 1, kind: "d", name: "Ti", labelX: 1042, labelY: 641, legendY: 618,
    series: [
      { key: "total", color: BLACK, pts: band(TIB_TOT_SC, TIB_TOT) },
      { key: "dxy", color: VIOLET, pts: TIB_DXY },
      { key: "dyz", color: CYAN, pts: TIB_DYZ },
      { key: "dzx", color: MAGENTA, pts: TIB_DZX },
      { key: "dx2y2", color: ORANGE, pts: TIB_DX2Y2 },
      { key: "dz2", color: GREEN4, pts: TIB_DZ2 },
    ],
  },
  {
    row: 4, col: 0, kind: "p", name: "Pb", labelX: 513, labelY: 802, legendY: 793,
    series: [
      { key: "total", color: BLACK, pts: band(PB3_SC, PB3_TOT) },
      { key: "s", color: TURQ, pts: band(PB3_SC, PB3_S) },
      { key: "px", color: RED, pts: PB3_PX },
      { key: "py", color: GREEN, pts: PB3_PY },
      { key: "pz", color: BLUE, pts: PB3_PZ },
    ],
  },
  {
    row: 4, col: 1, kind: "p", name: "O", sub: "III", labelX: 1018, labelY: 799, legendY: 793,
    series: [
      { key: "total", color: BLACK, pts: band(O3C_TOT_SC, O3C_TOT) },
      { key: "s", color: TURQ, pts: O3C_S },
      { key: "px", color: RED, pts: band(O3C_PX_SC, O3C_PX) },
      { key: "py", color: GREEN, pts: band(O3C_PY_SC, O3C_PY) },
      { key: "pz", color: BLUE, pts: band(O3C_PZ_SC, O3C_PZ) },
    ],
  },
];

const P_OFFS = [0, 12.5, 28.5, 50, 71];
const D_OFFS = [0, 22, 49.5, 77, 103.5, 130.5];

function legendLabel(k: string) {
  if (k === "total" || k === "s") return k;
  if (k[0] === "p")
    return (
      <>
        p<tspan dy={7} fontSize={15}>{k[1]}</tspan>
      </>
    );
  if (k === "dx2y2")
    return (
      <>
        d<tspan dy={10} fontSize={16}>x</tspan>
        <tspan dy={-8} fontSize={11}>2</tspan>
        <tspan dx={7} dy={8} fontSize={16}>- y</tspan>
        <tspan dy={-8} fontSize={11}>2</tspan>
      </>
    );
  if (k === "dz2")
    return (
      <>
        d<tspan dy={10} fontSize={16}>z</tspan>
        <tspan dy={-8} fontSize={11}>2</tspan>
      </>
    );
  return (
    <>
      d<tspan dy={10} fontSize={16}>{k.slice(1)}</tspan>
    </>
  );
}

function baseShift(k: string) {
  if (k === "total") return 7;
  if (k === "s") return 6.5;
  if (k[0] === "p") return 1.5;
  return 0.5;
}

function LegendBox({ series, offs }: { series: Series[]; offs: number[] }) {
  return (
    <svg width={220} height={150} style={{ overflow: "visible", display: "block" }}>
      {series.map((s, i) => (
        <g key={s.key}>
          <line x1={0} x2={20} y1={offs[i]} y2={offs[i]} stroke={s.color} strokeWidth={1.8} />
          <text x={30} y={offs[i] + baseShift(s.key)} fontFamily={FONT} fontSize={22} fill="#000">
            {legendLabel(s.key)}
          </text>
        </g>
      ))}
    </svg>
  );
}

// tick renderers
const NoTick = () => <g />;
const XLabel = (props: any) => (
  <text x={props.x} y={props.y} dy="0.71em" textAnchor="middle" fontFamily={FONT} fontSize={24} fill="#000">
    {props.payload.value}
  </text>
);
const YLabel = (props: any) => {
  const v = Number(props.payload?.value);
  if (!Y_LABELED.includes(v)) return <g />;
  return (
    <text x={props.x} y={props.y} dy="0.35em" textAnchor="end" fontFamily={FONT} fontSize={24} fill="#000">
      {v}
    </text>
  );
};

function PanelChart({ p }: { p: Panel }) {
  const isLeft = p.col === 0;
  const isBottom = p.row === 4;
  const top = ROW_TOP[p.row];
  const plotH = ROW_H[p.row];
  const yAxisW = isLeft ? 50 : 6;
  const chartLeft = COL_X[p.col] - yAxisW - (isLeft ? 0 : 1);
  const chartW = COL_W[p.col] + yAxisW + (isLeft ? 0 : 2);
  const chartH = plotH + 2 + (isBottom ? 45 : 0);
  const legendLeft = (isLeft ? 193 : 682) - chartLeft;
  const legendTop = p.legendY - (top - 1);
  const offs = p.kind === "p" ? P_OFFS : D_OFFS;
  const tickStroke = { stroke: "#000", strokeWidth: 1.5 };

  return (
    <div style={{ position: "absolute", left: chartLeft, top: top - 1 }}>
      <LineChart
        width={chartW}
        height={chartH}
        margin={{ top: 1, right: isLeft ? 0 : 1, bottom: 1, left: isLeft ? 0 : 1 }}
      >
        <XAxis xAxisId="maj" dataKey="e" type="number" domain={X_DOMAIN} allowDataOverflow
          ticks={X_MAJOR} interval={0} mirror height={1} tick={NoTick} tickSize={20}
          tickLine={tickStroke} axisLine={false} />
        <XAxis xAxisId="min" dataKey="e" type="number" domain={X_DOMAIN} allowDataOverflow
          ticks={X_MINOR} interval={0} mirror height={1} tick={NoTick} tickSize={12}
          tickLine={tickStroke} axisLine={false} />
        {isBottom && (
          <XAxis xAxisId="lab" dataKey="e" type="number" domain={X_DOMAIN} allowDataOverflow
            ticks={X_MAJOR} interval={0} height={45} tickSize={0} tickMargin={12}
            tickLine={false} axisLine={false} tick={XLabel} />
        )}
        <YAxis yAxisId="maj" type="number" domain={Y_DOMAIN} allowDataOverflow ticks={Y_TICKS}
          interval={0} width={yAxisW} tickSize={0} tickMargin={5} tickLine={false}
          axisLine={false} tick={isLeft ? YLabel : NoTick} />
        <Legend
          layout="vertical"
          align="center"
          verticalAlign="middle"
          wrapperStyle={{ left: legendLeft, top: legendTop, width: 220, height: 150 }}
          content={() => <LegendBox series={p.series} offs={offs} />}
        />
        {p.series.map((s) => (
          <Line
            key={s.key}
            name={s.key}
            data={s.pts.map(([e, v]) => ({ e, v }))}
            dataKey="v"
            xAxisId="maj"
            yAxisId="maj"
            type="monotone"
            stroke={s.color}
            strokeWidth={1.7}
            dot={false}
            activeDot={false}
            isAnimationActive={false}
          />
        ))}
      </LineChart>
    </div>
  );
}

// panel frames and inward y tick marks
function Frames() {
  return (
    <>
      {PANELS.map((p) => {
        const x0 = COL_X[p.col];
        const y0 = ROW_TOP[p.row];
        const h = ROW_H[p.row];
        return (
          <g key={`f-${p.row}-${p.col}`}>
            {Y_TICKS.map((v) => {
              const y = y0 + h * (1 - (v - Y_DOMAIN[0]) / (Y_DOMAIN[1] - Y_DOMAIN[0]));
              const len = Y_LABELED.includes(v) ? 20 : 10;
              return <line key={v} x1={x0} x2={x0 + len} y1={y} y2={y} stroke="#000" strokeWidth={1.5} />;
            })}
            <rect x={x0} y={y0} width={COL_W[p.col]} height={h} fill="none" stroke="#000" strokeWidth={2} />
          </g>
        );
      })}
    </>
  );
}

function Overlay() {
  return (
    <svg
      width={1119}
      height={1025}
      style={{ position: "absolute", left: 0, top: 0, pointerEvents: "none" }}
      fontFamily={FONT}
    >
      <Frames />
      <text x={620} y={35} textAnchor="middle" fontSize={44} fill="#000">
        PbTiO<tspan dy={14} fontSize={28}>3</tspan>
        <tspan dy={-14}> in plane polarization</tspan>
      </text>
      <text x={628} y={95} textAnchor="middle" fontSize={36} fill="#000">
        PbO-term.
      </text>
      {PANELS.map((p) => (
        <text key={`${p.row}-${p.col}`} x={p.labelX} y={p.labelY} fontSize={26} fill="#000">
          {p.name}
          {p.sub && (
            <tspan dy={11} fontSize={18}>
              {p.sub}
            </tspan>
          )}
        </text>
      ))}
      <text x={596} y={210} textAnchor="middle" fontSize={36} fontWeight="bold" fill="#ff0000">
        surface
      </text>
      <text x={600} y={869} textAnchor="middle" fontSize={36} fontWeight="bold" fill="#ff0000">
        center
      </text>
      <text x={596} y={1007} textAnchor="middle" fontSize={45} fill="#000">
        E-E<tspan dy={14} fontSize={30}>F</tspan>
        <tspan dy={-14}>(eV)</tspan>
      </text>
      <text transform="rotate(-90)" x={-524} y={52} textAnchor="middle" fontSize={52} fill="#000">
        PDOS(states/eV)
      </text>
    </svg>
  );
}

export default function App() {
  return (
    <div
      style={{
        position: "absolute",
        left: 0,
        top: 0,
        width: 1119,
        height: 1025,
        background: "#fff",
        overflow: "hidden",
        fontFamily: FONT,
      }}
    >
      <style>{".recharts-surface{overflow:visible}"}</style>
      {PANELS.map((p) => (
        <PanelChart key={`${p.row}-${p.col}`} p={p} />
      ))}
      <Overlay />
    </div>
  );
}
